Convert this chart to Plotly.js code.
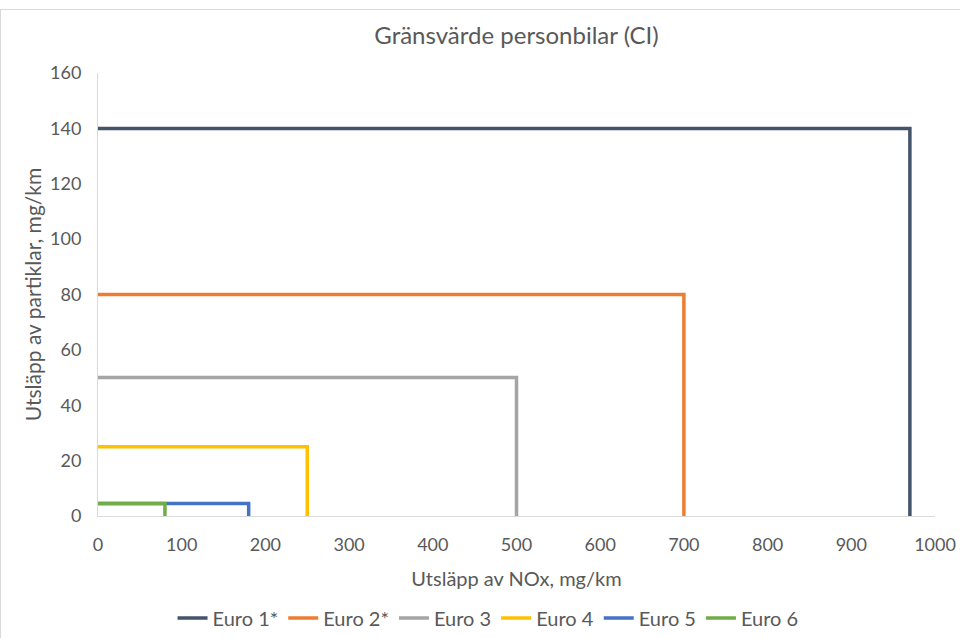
<!DOCTYPE html>
<html>
<head>
<meta charset="utf-8">
<script src="https://cdn.plot.ly/plotly-3.0.1.min.js"></script>
<style>
html,body{margin:0;padding:0;background:#fff;}
#wrap{position:relative;width:960px;height:638px;}
#chart{position:absolute;left:0;top:0;width:960px;height:638px;}
#bt{position:absolute;left:0;top:9px;width:960px;height:1px;background:#d9d9d9;}
#bl{position:absolute;left:0;top:9px;width:1px;height:629px;background:#d9d9d9;}
</style>
</head>
<body>
<div id="wrap"><div id="chart"></div><div id="bt"></div><div id="bl"></div></div>
<script>
// Series names and limit values (NOx mg/km, PM mg/km)
const seriesNames = ["Euro 1*", "Euro 2*", "Euro 3", "Euro 4", "Euro 5", "Euro 6"];
const noxLimits = [970, 700, 500, 250, 180, 80];
const pmLimits = [140, 80, 50, 25, 4.5, 4.5];
const colors = ["#44546a", "#ed7d31", "#a5a5a5", "#ffc000", "#4472c4", "#70ad47"];

const traces = seriesNames.map((n, i) => ({
  type: "scatter",
  mode: "lines",
  name: n,
  x: [0, noxLimits[i], noxLimits[i]],
  y: [pmLimits[i], pmLimits[i], 0],
  line: {color: colors[i], width: 3.5},
  cliponaxis: false,
  hoverinfo: "skip"
}));

const font = "Lato, 'Open Sans', 'Liberation Sans', sans-serif";
const txt = "#595959";
const layout = {
  width: 960, height: 638,
  margin: {l: 98, r: 25, t: 73, b: 122, autoexpand: false},
  paper_bgcolor: "#fff", plot_bgcolor: "#fff",
  font: {family: font, color: txt, size: 18},
  title: {text: "Gränsvärde personbilar (CI)", font: {size: 24, color: txt, family: font},
          x: 0.5, xanchor: "center", xref: "paper", y: 1 - 36 / 638, yanchor: "middle"},
  showlegend: true,
  legend: {orientation: "h", x: 0.466, xanchor: "center", y: -0.23, yanchor: "middle",
           font: {size: 20, color: txt}, traceorder: "normal", itemwidth: 30, tracegroupgap: 0},
  xaxis: {
    range: [0, 1000], dtick: 100, tick0: 0,
    showgrid: false, zeroline: false,
    showline: true, linecolor: "#d9d9d9", linewidth: 1,
    ticks: "outside", ticklen: 12, tickcolor: "rgba(0,0,0,0)",
    tickfont: {size: 18, color: txt},
    title: {text: "Utsläpp av NOx, mg/km", font: {size: 20, color: txt}, standoff: 18}
  },
  yaxis: {
    range: [0, 160], dtick: 20, tick0: 0,
    showgrid: false, zeroline: false,
    showline: true, linecolor: "#d9d9d9", linewidth: 1,
    ticks: "outside", ticklen: 12, tickcolor: "rgba(0,0,0,0)",
    tickfont: {size: 18, color: txt},
    title: {text: "Utsläpp av partiklar, mg/km", font: {size: 21, color: txt}, standoff: 2}
  }
};
Plotly.newPlot("chart", traces, layout, {displayModeBar: false, staticPlot: true});
</script>
</body>
</html>
